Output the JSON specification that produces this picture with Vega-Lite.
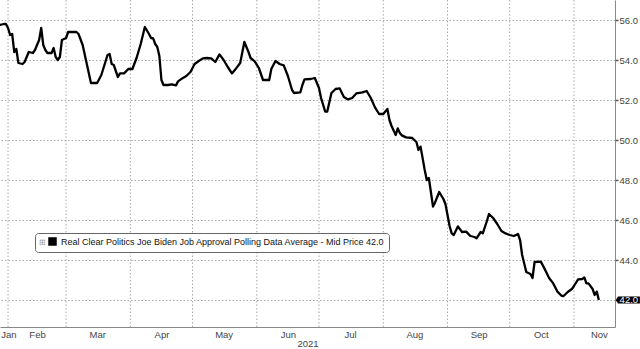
{
  "$schema": "https://vega.github.io/schema/vega-lite/v6.json",
  "width": 615,
  "height": 327,
  "autosize": {"type": "none"},
  "padding": {"left": 0, "top": 0, "right": 25, "bottom": 22},
  "background": "white",
  "config": {
    "view": {"stroke": null},
    "font": "Liberation Sans"
  },
  "datasets": {
    "grid": [
      {"date": "2021-02-01"}, {"date": "2021-03-01"}, {"date": "2021-04-01"}, {"date": "2021-05-01"},
      {"date": "2021-06-01"}, {"date": "2021-07-01"}, {"date": "2021-08-01"}, {"date": "2021-09-01"},
      {"date": "2021-10-01"}, {"date": "2021-11-01"}
    ],
    "series": [
      {"date": "2021-01-28", "v": 55.75}, {"date": "2021-01-30", "v": 55.8}, {"date": "2021-01-31", "v": 55.8},
      {"date": "2021-02-01", "v": 55.6}, {"date": "2021-02-02", "v": 55.25}, {"date": "2021-02-03", "v": 55.3},
      {"date": "2021-02-04", "v": 54.4}, {"date": "2021-02-05", "v": 54.55}, {"date": "2021-02-06", "v": 53.85},
      {"date": "2021-02-08", "v": 53.8}, {"date": "2021-02-09", "v": 53.9}, {"date": "2021-02-11", "v": 54.4},
      {"date": "2021-02-13", "v": 54.35}, {"date": "2021-02-14", "v": 54.5}, {"date": "2021-02-16", "v": 55.0},
      {"date": "2021-02-17", "v": 55.6}, {"date": "2021-02-18", "v": 54.75}, {"date": "2021-02-19", "v": 54.5},
      {"date": "2021-02-20", "v": 54.35}, {"date": "2021-02-22", "v": 54.35}, {"date": "2021-02-23", "v": 54.6},
      {"date": "2021-02-24", "v": 54.15}, {"date": "2021-02-25", "v": 54.0}, {"date": "2021-02-26", "v": 54.15},
      {"date": "2021-02-27", "v": 55.0}, {"date": "2021-03-01", "v": 55.1}, {"date": "2021-03-02", "v": 55.4},
      {"date": "2021-03-06", "v": 55.4}, {"date": "2021-03-07", "v": 55.3}, {"date": "2021-03-09", "v": 54.75},
      {"date": "2021-03-11", "v": 53.8}, {"date": "2021-03-13", "v": 52.85}, {"date": "2021-03-16", "v": 52.85},
      {"date": "2021-03-18", "v": 53.25}, {"date": "2021-03-21", "v": 54.25}, {"date": "2021-03-22", "v": 54.3},
      {"date": "2021-03-23", "v": 53.8}, {"date": "2021-03-24", "v": 53.75}, {"date": "2021-03-26", "v": 53.15},
      {"date": "2021-03-27", "v": 53.33}, {"date": "2021-03-29", "v": 53.33}, {"date": "2021-03-31", "v": 53.55},
      {"date": "2021-04-02", "v": 53.55}, {"date": "2021-04-04", "v": 54.1}, {"date": "2021-04-06", "v": 54.8},
      {"date": "2021-04-08", "v": 55.65}, {"date": "2021-04-10", "v": 55.3}, {"date": "2021-04-11", "v": 55.1},
      {"date": "2021-04-12", "v": 55.08}, {"date": "2021-04-13", "v": 54.8}, {"date": "2021-04-14", "v": 54.65},
      {"date": "2021-04-15", "v": 54.2}, {"date": "2021-04-16", "v": 53.0}, {"date": "2021-04-17", "v": 52.75},
      {"date": "2021-04-19", "v": 52.75}, {"date": "2021-04-21", "v": 52.78}, {"date": "2021-04-23", "v": 52.73},
      {"date": "2021-04-24", "v": 52.93}, {"date": "2021-04-26", "v": 53.08}, {"date": "2021-04-28", "v": 53.2},
      {"date": "2021-04-30", "v": 53.4}, {"date": "2021-05-02", "v": 53.8}, {"date": "2021-05-04", "v": 53.95},
      {"date": "2021-05-06", "v": 54.08}, {"date": "2021-05-08", "v": 54.1}, {"date": "2021-05-10", "v": 54.08},
      {"date": "2021-05-12", "v": 53.9}, {"date": "2021-05-14", "v": 54.28}, {"date": "2021-05-16", "v": 54.0},
      {"date": "2021-05-18", "v": 53.65}, {"date": "2021-05-20", "v": 53.33}, {"date": "2021-05-22", "v": 53.58},
      {"date": "2021-05-24", "v": 53.85}, {"date": "2021-05-26", "v": 54.9}, {"date": "2021-05-28", "v": 54.4},
      {"date": "2021-05-29", "v": 54.1}, {"date": "2021-05-31", "v": 53.93}, {"date": "2021-06-02", "v": 53.6},
      {"date": "2021-06-04", "v": 53.0}, {"date": "2021-06-07", "v": 53.0}, {"date": "2021-06-08", "v": 53.55},
      {"date": "2021-06-10", "v": 53.95}, {"date": "2021-06-12", "v": 53.8}, {"date": "2021-06-14", "v": 53.73},
      {"date": "2021-06-16", "v": 53.2}, {"date": "2021-06-18", "v": 52.5}, {"date": "2021-06-19", "v": 52.35},
      {"date": "2021-06-22", "v": 52.38}, {"date": "2021-06-23", "v": 52.75}, {"date": "2021-06-24", "v": 53.03},
      {"date": "2021-06-27", "v": 53.05}, {"date": "2021-06-29", "v": 53.1}, {"date": "2021-07-01", "v": 52.6},
      {"date": "2021-07-02", "v": 52.1}, {"date": "2021-07-04", "v": 51.42}, {"date": "2021-07-05", "v": 51.42},
      {"date": "2021-07-07", "v": 52.35}, {"date": "2021-07-09", "v": 52.55}, {"date": "2021-07-11", "v": 52.58},
      {"date": "2021-07-13", "v": 52.15}, {"date": "2021-07-15", "v": 52.03}, {"date": "2021-07-17", "v": 52.1},
      {"date": "2021-07-19", "v": 52.33}, {"date": "2021-07-22", "v": 52.38}, {"date": "2021-07-24", "v": 52.45},
      {"date": "2021-07-26", "v": 52.1}, {"date": "2021-07-28", "v": 51.63}, {"date": "2021-07-30", "v": 51.3},
      {"date": "2021-08-01", "v": 51.3}, {"date": "2021-08-03", "v": 51.55}, {"date": "2021-08-04", "v": 51.0},
      {"date": "2021-08-05", "v": 50.7}, {"date": "2021-08-07", "v": 50.25}, {"date": "2021-08-08", "v": 50.58},
      {"date": "2021-08-09", "v": 50.35}, {"date": "2021-08-10", "v": 50.23}, {"date": "2021-08-12", "v": 50.13},
      {"date": "2021-08-15", "v": 50.1}, {"date": "2021-08-17", "v": 49.9}, {"date": "2021-08-18", "v": 49.5},
      {"date": "2021-08-19", "v": 49.67}, {"date": "2021-08-21", "v": 48.5}, {"date": "2021-08-22", "v": 48.0},
      {"date": "2021-08-23", "v": 48.1}, {"date": "2021-08-25", "v": 46.67}, {"date": "2021-08-26", "v": 46.88},
      {"date": "2021-08-28", "v": 47.4}, {"date": "2021-08-30", "v": 47.05}, {"date": "2021-08-31", "v": 46.8},
      {"date": "2021-09-02", "v": 45.7}, {"date": "2021-09-03", "v": 45.33}, {"date": "2021-09-04", "v": 45.25},
      {"date": "2021-09-06", "v": 45.68}, {"date": "2021-09-08", "v": 45.4}, {"date": "2021-09-10", "v": 45.42},
      {"date": "2021-09-12", "v": 45.2}, {"date": "2021-09-14", "v": 45.15}, {"date": "2021-09-15", "v": 45.08},
      {"date": "2021-09-17", "v": 45.4}, {"date": "2021-09-18", "v": 45.33}, {"date": "2021-09-20", "v": 45.95},
      {"date": "2021-09-21", "v": 46.3}, {"date": "2021-09-23", "v": 46.1}, {"date": "2021-09-25", "v": 45.8},
      {"date": "2021-09-27", "v": 45.45}, {"date": "2021-09-29", "v": 45.33}, {"date": "2021-10-01", "v": 45.25},
      {"date": "2021-10-03", "v": 45.2}, {"date": "2021-10-05", "v": 45.3}, {"date": "2021-10-06", "v": 45.0},
      {"date": "2021-10-07", "v": 44.25}, {"date": "2021-10-09", "v": 43.4}, {"date": "2021-10-11", "v": 43.3},
      {"date": "2021-10-12", "v": 43.1}, {"date": "2021-10-13", "v": 43.9}, {"date": "2021-10-16", "v": 43.92},
      {"date": "2021-10-18", "v": 43.53}, {"date": "2021-10-20", "v": 43.1}, {"date": "2021-10-22", "v": 42.83},
      {"date": "2021-10-24", "v": 42.42}, {"date": "2021-10-26", "v": 42.21}, {"date": "2021-10-27", "v": 42.2},
      {"date": "2021-10-29", "v": 42.4}, {"date": "2021-10-31", "v": 42.55}, {"date": "2021-11-01", "v": 42.7},
      {"date": "2021-11-03", "v": 43.03}, {"date": "2021-11-05", "v": 43.05}, {"date": "2021-11-06", "v": 43.13},
      {"date": "2021-11-07", "v": 42.83}, {"date": "2021-11-08", "v": 42.83}, {"date": "2021-11-10", "v": 42.55},
      {"date": "2021-11-11", "v": 42.25}, {"date": "2021-11-12", "v": 42.42}, {"date": "2021-11-13", "v": 42.0}
    ],
    "last": [{"date": "2021-11-13", "v": 42.0, "label": "42.0"}]
  },
  "layer": [
    {
      "data": {"name": "grid"},
      "mark": {"type": "rule", "color": "#aaaaaa", "strokeDash": [1.5, 2], "strokeWidth": 1},
      "encoding": {
        "x": {"field": "date", "type": "temporal"}
      }
    },
    {
      "data": {"name": "series"},
      "mark": {"type": "line", "color": "#000000", "strokeWidth": 2.3, "strokeJoin": "round"},
      "encoding": {
        "x": {
          "field": "date",
          "type": "temporal",
          "scale": {
            "type": "utc",
            "domain": [
              {"year": 2021, "month": 1, "date": 28, "hours": 3, "utc": true},
              {"year": 2021, "month": 11, "date": 20, "hours": 19, "utc": true}
            ]
          },
          "axis": {
            "values": [
              {"year": 2021, "month": 1, "date": 28, "hours": 12, "utc": true},
              {"year": 2021, "month": 2, "date": 15, "utc": true},
              {"year": 2021, "month": 3, "date": 16, "utc": true},
              {"year": 2021, "month": 4, "date": 16, "utc": true},
              {"year": 2021, "month": 5, "date": 16, "utc": true},
              {"year": 2021, "month": 6, "date": 16, "utc": true},
              {"year": 2021, "month": 7, "date": 16, "utc": true},
              {"year": 2021, "month": 8, "date": 16, "utc": true},
              {"year": 2021, "month": 9, "date": 16, "utc": true},
              {"year": 2021, "month": 10, "date": 16, "utc": true},
              {"year": 2021, "month": 11, "date": 13, "utc": true}
            ],
            "labelExpr": "utcFormat(datum.value, '%b')",
            "labelAlign": {"condition": {"test": "utcmonth(datum.value) == 0", "value": "left"}, "value": "center"},
            "ticks": false,
            "grid": false,
            "domain": true,
            "domainColor": "#888888",
            "labelColor": "#444444",
            "labelFontSize": 9.5,
            "labelPadding": 2,
            "labelFlush": false,
            "labelOverlap": false,
            "title": "2021",
            "titleFontSize": 9.5,
            "titleFontWeight": "normal",
            "titleColor": "#444444",
            "titlePadding": 0
          }
        },
        "y": {
          "field": "v",
          "type": "quantitative",
          "scale": {"domain": [40.65, 57], "nice": false, "zero": false},
          "axis": {
            "orient": "right",
            "values": [42, 44, 46, 48, 50, 52, 54, 56],
            "labelExpr": "datum.value == 42 ? '' : format(datum.value, '.1f')",
            "grid": true,
            "gridColor": "#aaaaaa",
            "gridDash": [1.5, 2],
            "gridOpacity": 1,
            "domainColor": "#888888",
            "tickColor": "#555555",
            "tickSize": 3,
            "tickWidth": 1.5,
            "labelColor": "#444444",
            "labelFontSize": 9.5,
            "labelPadding": 1,
            "labelFlush": false,
            "labelOverlap": false,
            "title": null
          }
        },
        "color": {
          "datum": "Real Clear Politics Joe Biden Job Approval Polling Data Average - Mid Price 42.0",
          "type": "nominal",
          "scale": {"range": ["#000000"]},
          "legend": {
            "orient": "none",
            "legendX": 35,
            "legendY": 233,
            "title": "⊞",
            "titleOrient": "left",
            "titleFontSize": 8,
            "titleFontWeight": "normal",
            "titleColor": "#999999",
            "titlePadding": 2,
            "symbolType": "square",
            "symbolFillColor": "#000000",
            "symbolStrokeColor": "#000000",
            "symbolSize": 49,
            "labelFontSize": 9,
            "labelColor": "#111111",
            "labelLimit": 0,
            "padding": 4,
            "strokeColor": "#666666",
            "fillColor": "#ffffff",
            "cornerRadius": 3
          }
        }
      }
    },
    {
      "data": {"name": "last"},
      "mark": {
        "type": "point",
        "shape": "M -1 0 L -0.82 -0.3 L 1 -0.3 L 1 0.3 L -0.82 0.3 Z",
        "filled": true,
        "color": "#000000",
        "opacity": 1,
        "size": 576,
        "xOffset": 29,
        "clip": false
      },
      "encoding": {
        "x": {"field": "date", "type": "temporal"},
        "y": {"field": "v", "type": "quantitative"}
      }
    },
    {
      "data": {"name": "last"},
      "mark": {"type": "text", "color": "#ffffff", "fontSize": 9.5, "align": "center", "baseline": "middle", "dx": 30, "clip": false},
      "encoding": {
        "x": {"field": "date", "type": "temporal"},
        "y": {"field": "v", "type": "quantitative"},
        "text": {"field": "label"}
      }
    }
  ]
}
